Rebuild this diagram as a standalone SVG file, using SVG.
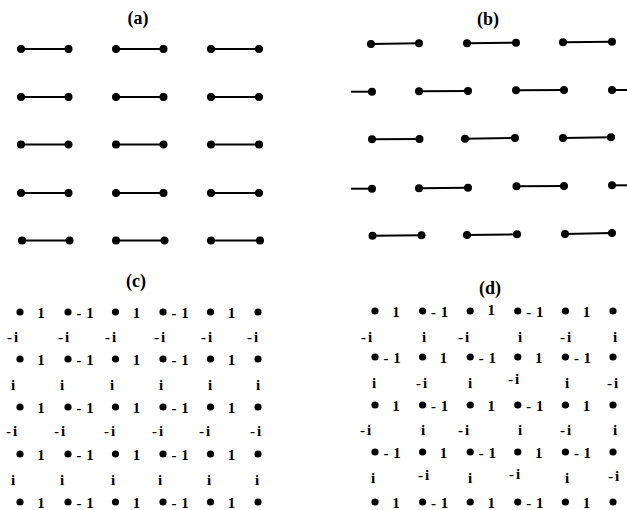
<svg xmlns="http://www.w3.org/2000/svg" width="627" height="510" viewBox="0 0 627 510">
<style>
.ln{stroke:#000;stroke-width:2;fill:none;stroke-linecap:butt}
.d{fill:#000}
.t{font-family:"Liberation Serif","Times New Roman",serif;font-weight:bold;font-size:15px;fill:#000}
.m{text-anchor:middle}
.lbl{font-family:"Liberation Serif","Times New Roman",serif;font-weight:bold;font-size:18px;text-anchor:middle;fill:#000}
</style>
<defs>
<circle id="big" r="4" class="d"/>
<circle id="sm" r="3.6" class="d"/>
</defs>
<rect width="627" height="510" fill="#fff"/>

<g id="labels">
<text class="lbl" x="138" y="24">(a)</text>
<text class="lbl" x="488" y="25">(b)</text>
<text class="lbl" x="136" y="287">(c)</text>
<text class="lbl" x="490" y="294">(d)</text>
</g>

<g id="connectors" class="ln">
<!-- (a) -->
<line x1="21" y1="49" x2="68.5" y2="49"/><line x1="116" y1="49" x2="163.5" y2="49"/><line x1="211" y1="49" x2="259" y2="49"/>
<line x1="21" y1="97" x2="68.5" y2="97"/><line x1="116" y1="97" x2="163.5" y2="97"/><line x1="211" y1="97" x2="259" y2="97"/>
<line x1="21" y1="144.5" x2="68.5" y2="144.5"/><line x1="116" y1="144.5" x2="163.5" y2="144.5"/><line x1="211" y1="144.5" x2="259" y2="144.5"/>
<line x1="21" y1="193" x2="68.5" y2="193"/><line x1="116" y1="193" x2="163.5" y2="193"/><line x1="211" y1="193" x2="259" y2="193"/>
<line x1="22" y1="240.5" x2="69.5" y2="240.5"/><line x1="116" y1="240.5" x2="164.5" y2="240.5"/><line x1="211" y1="240.5" x2="260" y2="240.5"/>
<!-- (b) -->
<line x1="371" y1="44" x2="419" y2="43.3"/><line x1="467" y1="43.3" x2="516" y2="42.7"/><line x1="563" y1="42.3" x2="612" y2="41.7"/>
<line x1="351" y1="91.7" x2="372" y2="91.7"/><line x1="419" y1="91.3" x2="468" y2="91"/><line x1="516" y1="90.3" x2="564" y2="90"/><line x1="612" y1="90" x2="627" y2="90"/>
<line x1="372" y1="139.3" x2="419.5" y2="139"/><line x1="465" y1="138.7" x2="515" y2="138"/><line x1="563" y1="138" x2="611" y2="137.3"/>
<line x1="351" y1="188.7" x2="372" y2="188.7"/><line x1="419" y1="188.3" x2="468" y2="187.7"/><line x1="516.5" y1="186.3" x2="564" y2="186"/><line x1="612" y1="185.3" x2="627" y2="185.3"/>
<line x1="372.5" y1="235.7" x2="421.5" y2="235.3"/><line x1="467" y1="235" x2="517" y2="234.3"/><line x1="565" y1="234" x2="612" y2="233"/>
</g>

<g id="panel-a">
<use href="#big" x="21" y="49"/><use href="#big" x="68.5" y="49"/><use href="#big" x="116" y="49"/><use href="#big" x="163.5" y="49"/><use href="#big" x="211" y="49"/><use href="#big" x="259" y="49"/>
<use href="#big" x="21" y="97"/><use href="#big" x="68.5" y="97"/><use href="#big" x="116" y="97"/><use href="#big" x="163.5" y="97"/><use href="#big" x="211" y="97"/><use href="#big" x="259" y="97"/>
<use href="#big" x="21" y="144.5"/><use href="#big" x="68.5" y="144.5"/><use href="#big" x="116" y="144.5"/><use href="#big" x="163.5" y="144.5"/><use href="#big" x="211" y="144.5"/><use href="#big" x="259" y="144.5"/>
<use href="#big" x="21" y="193"/><use href="#big" x="68.5" y="193"/><use href="#big" x="116" y="193"/><use href="#big" x="163.5" y="193"/><use href="#big" x="211" y="193"/><use href="#big" x="259" y="193"/>
<use href="#big" x="22" y="240.5"/><use href="#big" x="69.5" y="240.5"/><use href="#big" x="116" y="240.5"/><use href="#big" x="164.5" y="240.5"/><use href="#big" x="211" y="240.5"/><use href="#big" x="260" y="240.5"/>
</g>

<g id="panel-b">
<use href="#big" x="371" y="44"/><use href="#big" x="419" y="43.3"/><use href="#big" x="467" y="43.3"/><use href="#big" x="516" y="42.7"/><use href="#big" x="563" y="42.3"/><use href="#big" x="612" y="41.7"/>
<use href="#big" x="372" y="91.7"/><use href="#big" x="419" y="91.3"/><use href="#big" x="468" y="91"/><use href="#big" x="516" y="90.3"/><use href="#big" x="564" y="90"/><use href="#big" x="612" y="90"/>
<use href="#big" x="372" y="139.3"/><use href="#big" x="419.5" y="139"/><use href="#big" x="465" y="138.7"/><use href="#big" x="515" y="138"/><use href="#big" x="563" y="138"/><use href="#big" x="611" y="137.3"/>
<use href="#big" x="372" y="188.7"/><use href="#big" x="419" y="188.3"/><use href="#big" x="468" y="187.7"/><use href="#big" x="516.5" y="186.3"/><use href="#big" x="564" y="186"/><use href="#big" x="612" y="185.3"/>
<use href="#big" x="372.5" y="235.7"/><use href="#big" x="421.5" y="235.3"/><use href="#big" x="467" y="235"/><use href="#big" x="517" y="234.3"/><use href="#big" x="565" y="234"/><use href="#big" x="612" y="233"/>
</g>

<g id="panel-c">
<g id="c-dots">
<use href="#sm" x="20" y="312"/><use href="#sm" x="68" y="312"/><use href="#sm" x="115.5" y="312"/><use href="#sm" x="163" y="312"/><use href="#sm" x="210.5" y="312"/><use href="#sm" x="258" y="312"/>
<use href="#sm" x="20" y="359"/><use href="#sm" x="68" y="359"/><use href="#sm" x="115.5" y="359"/><use href="#sm" x="163" y="359"/><use href="#sm" x="210.5" y="359"/><use href="#sm" x="258" y="359"/>
<use href="#sm" x="20" y="407"/><use href="#sm" x="68" y="407"/><use href="#sm" x="115.5" y="407"/><use href="#sm" x="163" y="407"/><use href="#sm" x="210.5" y="407"/><use href="#sm" x="258" y="407"/>
<use href="#sm" x="20" y="454"/><use href="#sm" x="68" y="454"/><use href="#sm" x="115.5" y="454"/><use href="#sm" x="163" y="454"/><use href="#sm" x="210.5" y="454"/><use href="#sm" x="258" y="454"/>
<use href="#sm" x="20" y="502"/><use href="#sm" x="68" y="502"/><use href="#sm" x="115.5" y="502"/><use href="#sm" x="163" y="502"/><use href="#sm" x="210.5" y="502"/><use href="#sm" x="258" y="502"/>
</g>
<g id="c-values" class="t">
<text class="m" x="41" y="318">1</text><text x="76.5" y="318">-<tspan dx="4.7">1</tspan></text><text class="m" x="136.5" y="318">1</text><text x="171.5" y="318">-<tspan dx="4.7">1</tspan></text><text class="m" x="231.5" y="318">1</text>
<text class="m" x="41" y="365">1</text><text x="76.5" y="365">-<tspan dx="4.7">1</tspan></text><text class="m" x="136.5" y="365">1</text><text x="171.5" y="365">-<tspan dx="4.7">1</tspan></text><text class="m" x="231.5" y="365">1</text>
<text class="m" x="41" y="413">1</text><text x="76.5" y="413">-<tspan dx="4.7">1</tspan></text><text class="m" x="136.5" y="413">1</text><text x="171.5" y="413">-<tspan dx="4.7">1</tspan></text><text class="m" x="231.5" y="413">1</text>
<text class="m" x="41" y="460">1</text><text x="76.5" y="460">-<tspan dx="4.7">1</tspan></text><text class="m" x="136.5" y="460">1</text><text x="171.5" y="460">-<tspan dx="4.7">1</tspan></text><text class="m" x="231.5" y="460">1</text>
<text class="m" x="41" y="508">1</text><text x="76.5" y="508">-<tspan dx="4.7">1</tspan></text><text class="m" x="136.5" y="508">1</text><text x="171.5" y="508">-<tspan dx="4.7">1</tspan></text><text class="m" x="231.5" y="508">1</text>
<text x="7" y="342">-<tspan dx="1.9">i</tspan></text><text x="58" y="342">-<tspan dx="1.9">i</tspan></text><text x="105" y="342">-<tspan dx="1.9">i</tspan></text><text x="154" y="342">-<tspan dx="1.9">i</tspan></text><text x="201" y="342">-<tspan dx="1.9">i</tspan></text><text x="247" y="342">-<tspan dx="1.9">i</tspan></text>
<text class="m" x="13" y="390">i</text><text class="m" x="62" y="390">i</text><text class="m" x="112" y="390">i</text><text class="m" x="161" y="390">i</text><text class="m" x="210" y="390">i</text><text class="m" x="258" y="390">i</text>
<text x="6" y="436">-<tspan dx="1.9">i</tspan></text><text x="54" y="436">-<tspan dx="1.9">i</tspan></text><text x="104" y="436">-<tspan dx="1.9">i</tspan></text><text x="152" y="436">-<tspan dx="1.9">i</tspan></text><text x="199" y="436">-<tspan dx="1.9">i</tspan></text><text x="250" y="436">-<tspan dx="1.9">i</tspan></text>
<text class="m" x="13" y="485">i</text><text class="m" x="62" y="485">i</text><text class="m" x="113" y="485">i</text><text class="m" x="160" y="485">i</text><text class="m" x="209" y="485">i</text><text class="m" x="257" y="485">i</text>
</g>
</g>

<g id="panel-d">
<g id="d-dots">
<use href="#sm" x="375" y="311"/><use href="#sm" x="422.6" y="311"/><use href="#sm" x="470.2" y="311"/><use href="#sm" x="517.8" y="311"/><use href="#sm" x="565.4" y="311"/><use href="#sm" x="613" y="311"/>
<use href="#sm" x="375" y="357"/><use href="#sm" x="422.6" y="357"/><use href="#sm" x="470.2" y="357"/><use href="#sm" x="517.8" y="357"/><use href="#sm" x="565.4" y="357"/><use href="#sm" x="613" y="357"/>
<use href="#sm" x="375" y="405"/><use href="#sm" x="422.6" y="405"/><use href="#sm" x="470.2" y="405"/><use href="#sm" x="517.8" y="405"/><use href="#sm" x="565.4" y="405"/><use href="#sm" x="613" y="405"/>
<use href="#sm" x="375" y="452"/><use href="#sm" x="422.6" y="452"/><use href="#sm" x="470.2" y="452"/><use href="#sm" x="517.8" y="452"/><use href="#sm" x="565.4" y="452"/><use href="#sm" x="613" y="452"/>
<use href="#sm" x="375" y="502"/><use href="#sm" x="422.6" y="502"/><use href="#sm" x="470.2" y="502"/><use href="#sm" x="517.8" y="502"/><use href="#sm" x="565.4" y="502"/><use href="#sm" x="613" y="502"/>
</g>
<g id="d-values" class="t">
<text class="m" x="396" y="317">1</text><text x="431.1" y="317">-<tspan dx="4.7">1</tspan></text><text class="m" x="491.2" y="315">1</text><text x="526.3" y="317">-<tspan dx="4.7">1</tspan></text><text class="m" x="586.4" y="317">1</text>
<text x="383.5" y="363">-<tspan dx="4.7">1</tspan></text><text class="m" x="443.6" y="363">1</text><text x="478.7" y="363">-<tspan dx="4.7">1</tspan></text><text class="m" x="538.8" y="363">1</text><text x="573.9" y="363">-<tspan dx="4.7">1</tspan></text>
<text class="m" x="396" y="411">1</text><text x="431.1" y="411">-<tspan dx="4.7">1</tspan></text><text class="m" x="491.2" y="411">1</text><text x="526.3" y="411">-<tspan dx="4.7">1</tspan></text><text class="m" x="586.4" y="411">1</text>
<text x="383.5" y="458">-<tspan dx="4.7">1</tspan></text><text class="m" x="443.6" y="458">1</text><text x="478.7" y="458">-<tspan dx="4.7">1</tspan></text><text class="m" x="538.8" y="458">1</text><text x="573.9" y="458">-<tspan dx="4.7">1</tspan></text>
<text class="m" x="396" y="508">1</text><text x="431.1" y="508">-<tspan dx="4.7">1</tspan></text><text class="m" x="491.2" y="508">1</text><text x="526.3" y="508">-<tspan dx="4.7">1</tspan></text><text class="m" x="586.4" y="508">1</text>
<text x="361" y="342">-<tspan dx="1.9">i</tspan></text><text class="m" x="424" y="342">i</text><text x="458" y="342">-<tspan dx="1.9">i</tspan></text><text class="m" x="520" y="342">i</text><text x="560" y="342">-<tspan dx="1.9">i</tspan></text><text class="m" x="615" y="342">i</text>
<text class="m" x="374" y="388">i</text><text x="416" y="388">-<tspan dx="1.9">i</tspan></text><text class="m" x="470" y="388">i</text><text x="508" y="384">-<tspan dx="1.9">i</tspan></text><text class="m" x="567" y="388">i</text><text x="607" y="388">-<tspan dx="1.9">i</tspan></text>
<text x="360" y="435">-<tspan dx="1.9">i</tspan></text><text class="m" x="423" y="435">i</text><text x="458" y="435">-<tspan dx="1.9">i</tspan></text><text class="m" x="520" y="435">i</text><text x="560" y="435">-<tspan dx="1.9">i</tspan></text><text class="m" x="615" y="435">i</text>
<text class="m" x="373" y="483">i</text><text x="418" y="480">-<tspan dx="1.9">i</tspan></text><text class="m" x="470" y="483">i</text><text x="509" y="479">-<tspan dx="1.9">i</tspan></text><text class="m" x="567" y="483">i</text><text x="608" y="481">-<tspan dx="1.9">i</tspan></text>
</g>
</g>
</svg>
